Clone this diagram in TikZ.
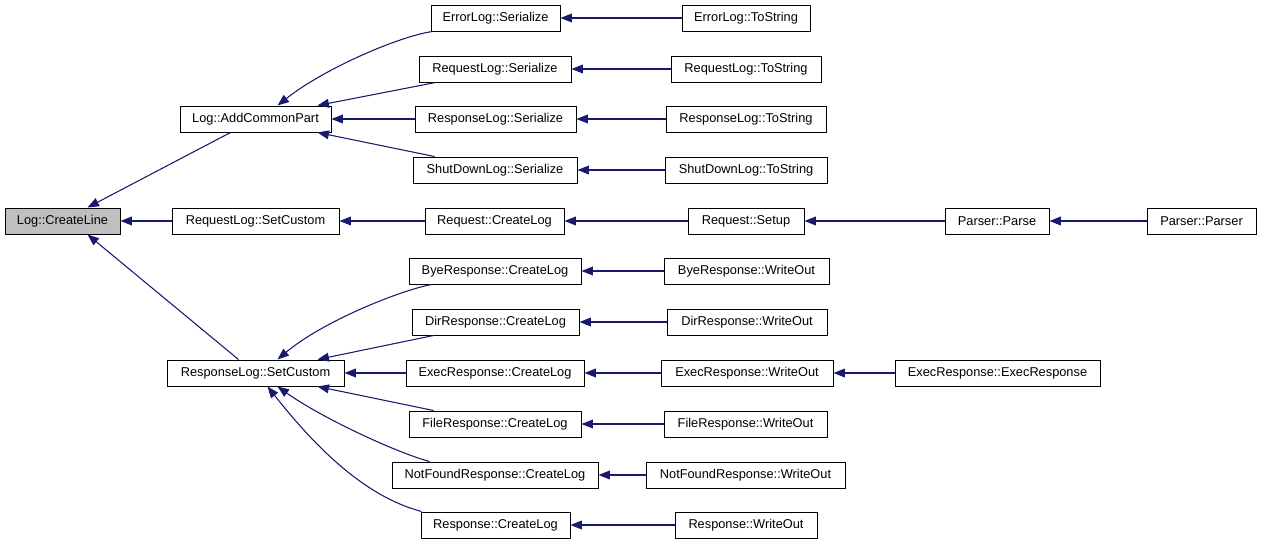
\documentclass[tikz,border=0pt]{standalone}
\usepackage{fontspec}
\setmainfont{Liberation Sans}
\usetikzlibrary{arrows.meta,calc}
\definecolor{edgeblue}{HTML}{191970}
\tikzset{
  box/.style={draw=black,line width=0.75pt,fill=white,minimum height=26*0.75pt,inner sep=0pt,font=\fontsize{9.6}{11}\selectfont},
  bw/.style={minimum width=#1*0.75pt},
  edge/.style={draw=edgeblue,line width=0.8pt,-{Triangle[length=8.6pt,width=6.6pt]}},
}
\begin{document}
\begin{tikzpicture}[x=0.75pt,y=-0.75pt]
\useasboundingbox (0,0) rectangle (1261,544);
% column 0
\node[box,bw=115,fill={rgb,255:red,191;green,191;blue,191}] (cl) at (62.5,221) {Log::CreateLine};
% column 1
\node[box,bw=151] (acp) at (255.5,119) {Log::AddCommonPart};
\node[box,bw=167] (rqsc) at (255.5,221) {RequestLog::SetCustom};
\node[box,bw=177] (rssc) at (255.5,373) {ResponseLog::SetCustom};
% column 2
\node[box,bw=129] (els) at (495.5,18) {ErrorLog::Serialize};
\node[box,bw=152] (rqls) at (495,69) {RequestLog::Serialize};
\node[box,bw=161] (rsls) at (495.5,119) {ResponseLog::Serialize};
\node[box,bw=164] (sdls) at (495,170) {ShutDownLog::Serialize};
\node[box,bw=139] (rqcl) at (494.5,221) {Request::CreateLog};
\node[box,bw=172] (bcl) at (495,271) {ByeResponse::CreateLog};
\node[box,bw=167] (dcl) at (495.5,322) {DirResponse::CreateLog};
\node[box,bw=178] (ecl) at (495,373) {ExecResponse::CreateLog};
\node[box,bw=172] (fcl) at (495,424) {FileResponse::CreateLog};
\node[box,bw=206] (ncl) at (495,475) {NotFoundResponse::CreateLog};
\node[box,bw=149] (rcl) at (495.5,525) {Response::CreateLog};
% column 3
\node[box,bw=128] (elt) at (746,18) {ErrorLog::ToString};
\node[box,bw=150] (rqlt) at (746,69) {RequestLog::ToString};
\node[box,bw=160] (rslt) at (746,119) {ResponseLog::ToString};
\node[box,bw=162] (sdlt) at (746,170) {ShutDownLog::ToString};
\node[box,bw=116] (rqsu) at (746,221) {Request::Setup};
\node[box,bw=165] (bwo) at (746.5,271) {ByeResponse::WriteOut};
\node[box,bw=160] (dwo) at (747,322) {DirResponse::WriteOut};
\node[box,bw=172] (ewo) at (747,373) {ExecResponse::WriteOut};
\node[box,bw=163] (fwo) at (745.5,424) {FileResponse::WriteOut};
\node[box,bw=199] (nwo) at (745.5,475) {NotFoundResponse::WriteOut};
\node[box,bw=142] (rwo) at (746,525) {Response::WriteOut};
% column 4
\node[box,bw=104] (pp) at (997,221) {Parser::Parse};
\node[box,bw=205] (eer) at (997.5,373) {ExecResponse::ExecResponse};
% column 5
\node[box,bw=109] (ppr) at (1201.5,221) {Parser::Parser};

% edges into Log::CreateLine
\draw[edge] ($(acp.south)+(-25,0)$) -- ($(cl.north)+(25,0)$);
\draw[edge] (rqsc.west) -- (cl.east);
\draw[edge] ($(rssc.north)+(-17,0)$) -- ($(cl.south)+(25,0)$);
% edges into Log::AddCommonPart
\draw[edge] ($(els.south west)+(2,0)$) .. controls (400,36) and (325,68) .. ($(acp.north)+(22,0)$);
\draw[edge] ($(rqls.south west)+(17,0)$) -- ($(acp.north)+(62,0)$);
\draw[edge] (rsls.west) -- (acp.east);
\draw[edge] ($(sdls.north west)+(22,0)$) -- ($(acp.south)+(62,0)$);
% serialize <- tostring
\draw[edge] (elt.west) -- (els.east);
\draw[edge] (rqlt.west) -- (rqls.east);
\draw[edge] (rslt.west) -- (rsls.east);
\draw[edge] (sdlt.west) -- (sdls.east);
% request chain
\draw[edge] (rqcl.west) -- (rqsc.east);
\draw[edge] (rqsu.west) -- (rqcl.east);
\draw[edge] (pp.west) -- (rqsu.east);
\draw[edge] (ppr.west) -- (pp.east);
% edges into ResponseLog::SetCustom
\draw[edge] ($(bcl.south west)+(23,0)$) .. controls (398,291) and (322,322) .. ($(rssc.north)+(22,0)$);
\draw[edge] ($(dcl.south west)+(22,0)$) -- ($(rssc.north)+(62,0)$);
\draw[edge] (ecl.west) -- (rssc.east);
\draw[edge] ($(fcl.north west)+(25,0)$) -- ($(rssc.south)+(62,0)$);
\draw[edge] ($(ncl.north west)+(38,0)$) .. controls (395,452) and (322,418) .. ($(rssc.south)+(22,0)$);
\draw[edge] ($(rcl.north west)+(1,0)$) .. controls (360,495) and (310,440) .. ($(rssc.south)+(12,0)$);
% writeout -> createlog
\draw[edge] (bwo.west) -- (bcl.east);
\draw[edge] (dwo.west) -- (dcl.east);
\draw[edge] (ewo.west) -- (ecl.east);
\draw[edge] (fwo.west) -- (fcl.east);
\draw[edge] (nwo.west) -- (ncl.east);
\draw[edge] (rwo.west) -- (rcl.east);
\draw[edge] (eer.west) -- (ewo.east);
\end{tikzpicture}
\end{document}
